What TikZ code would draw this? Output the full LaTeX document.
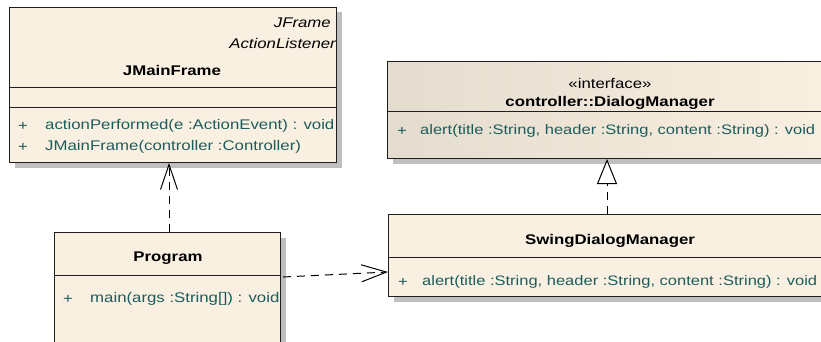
\documentclass[tikz,border=0pt]{standalone}
\usepackage{fontspec}
\setmainfont[FakeStretch=1.2]{Liberation Sans}
\usetikzlibrary{arrows.meta,calc,shadows}
\definecolor{boxfill}{RGB}{250,240,226}
\definecolor{boxgrey}{RGB}{228,220,206}
\definecolor{methc}{RGB}{28,92,92}
\definecolor{edge}{RGB}{30,30,30}
\begin{document}
\begin{tikzpicture}[x=1pt,y=-1pt,
  font=\fontsize{14}{16}\selectfont,
  umlbox/.style={draw=edge,line width=1pt,fill=boxfill,rectangle,inner sep=0pt,anchor=north west,
    general shadow={fill=black!25,shadow xshift=5pt,shadow yshift=-5pt}},
  divider/.style={draw=edge,line width=1pt},
  title/.style={font=\fontsize{14}{16}\selectfont\bfseries,text=black},
  meth/.style={text=methc,anchor=west,inner sep=0pt},
  longmeth/.style={meth,font=\fontsize{13.75}{16}\selectfont},
  dep/.style={draw=black,line width=1pt,dash pattern=on 8pt off 6pt,-{Straight Barb[length=25pt,width=17pt,line width=1pt]}},
  real/.style={draw=black,line width=1pt,dash pattern=on 8pt off 6pt,-{Triangle[length=25pt,width=20pt,fill=white,line width=1pt]}}]
\useasboundingbox (0,0) rectangle (821,342);
\clip (0,0) rectangle (821,342);
\fill[white] (0,0) rectangle (821,342);
% JMainFrame
\node[umlbox,minimum width=327pt,minimum height=155pt] (jmf) at (9,7) {};
\draw[divider] (9,88) -- (336,88);
\draw[divider] (9,108) -- (336,108);
\node[anchor=east,inner sep=0pt,font=\fontsize{14}{16}\selectfont\itshape] (jf1) at (331,23) {JFrame};
\node[anchor=east,inner sep=0pt,font=\fontsize{14}{16}\selectfont\itshape] (jf2) at (336,43) {ActionListener};
\node[title] (jft) at (172,70) {JMainFrame};
\node[meth] (jp1) at (18,126) {+};
\node[meth] (jm1) at (45,126) {actionPerformed(e :ActionEvent) : void};
\node[meth] (jp2) at (18,147) {+};
\node[meth] (jm2) at (45,147) {JMainFrame(controller :Controller)};
% Program
\node[umlbox,minimum width=226pt,minimum height=120pt] (prog) at (54,232) {};
\draw[divider] (54,275) -- (280,275);
\node[title] (pt) at (168,258) {Program};
\node[meth] (pp1) at (63,299) {+};
\node[meth] (pm1) at (90,299) {main(args :String[]) : void};
% DialogManager
\node[umlbox,minimum width=450pt,minimum height=97pt,left color=boxgrey,right color=boxfill] (dm) at (387,61) {};
\draw[divider] (387,112) -- (840,112);
\node[inner sep=0pt] (dms) at (610,83) {«interface»};
\node[title] (dmt) at (610,103) {controller::DialogManager};
\node[meth] (dp1) at (397,131) {+};
\node[longmeth] (dm1) at (420,131) {alert(title :String, header :String, content :String) : void};
% SwingDialogManager
\node[umlbox,minimum width=450pt,minimum height=82pt] (sw) at (388,214) {};
\draw[divider] (388,257) -- (840,257);
\node[title] (swt) at (610,241) {SwingDialogManager};
\node[meth] (sp1) at (398,282) {+};
\node[longmeth] (sm1) at (422,282) {alert(title :String, header :String, content :String) : void};
% connectors
\draw[dep] ($(prog.north west)+(115,0)$) -- ($(jmf.south west)+(160,0)$);
\draw[dep] ($(prog.north east)+(2,45)$) -- ($(sw.north west)+(0,58)$);
\draw[real] ($(sw.north west)+(219,0)$) -- ($(dm.south west)+(220,0)$);
\end{tikzpicture}
\end{document}
